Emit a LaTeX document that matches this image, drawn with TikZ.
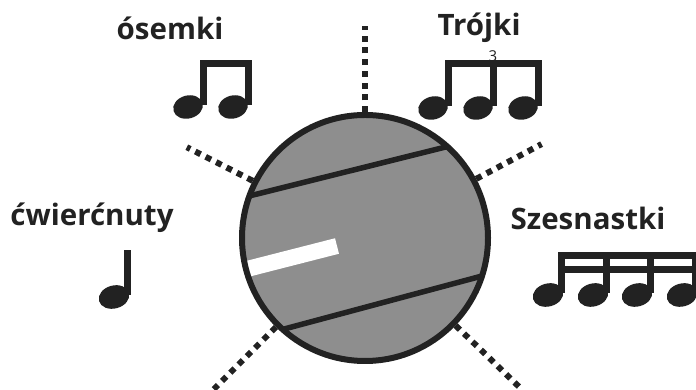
\documentclass[tikz,border=0pt]{standalone}
\usepackage{fontspec}
\setmainfont{Open Sans}
\usepackage{tikz}
\usetikzlibrary{positioning}

\definecolor{ink}{HTML}{222222}
\definecolor{dial}{HTML}{8E8E8E}

\begin{document}
\begin{tikzpicture}[
  x=1pt, y=1pt,
  disc/.style={circle, fill=dial, inner sep=0pt, outer sep=0pt, minimum size=246pt},
  rim/.style={draw=ink, line width=6pt},
  chord/.style={draw=ink, line width=5.5pt},
  dotline/.style={draw=ink, line width=6pt, dash pattern=on 6pt off 5.7pt},
  lbl/.style={font=\bfseries\fontsize{29.5}{32}\selectfont, text=ink, inner sep=0pt}
]
\useasboundingbox (0,0) rectangle (696,390);

% dial
\node[disc] (disc) at (365,152) {};
\coordinate (bar-in) at (337,144);
\coordinate (bar-out) at (247,121);
\draw[white, line width=16pt] (bar-out) -- (bar-in);
\draw[chord] (disc.160.5) -- (disc.48);
\draw[chord] (disc.228.5) -- (disc.342);
\draw[rim] (disc.center) circle[radius=123];

% dotted rays
\draw[dotline] (disc.90) ++(90:3) -- ++(90:86);
\draw[dotline] (disc.153) ++(153:3) -- ++(153:74);
\draw[dotline] (disc.28) ++(28:3) -- ++(28:74);
\draw[dotline] (disc.225) ++(225:3) -- ++(225:90);
\draw[dotline] (disc.316) ++(316:3) -- ++(316:90);

% labels
\node[lbl] (osemki) at (170,362) {ósemki};
\node[lbl] (trojki) at (479,362) {Trójki};
\node[lbl] (cwierc) at (92,172) {ćwierćnuty};
\node[lbl] (szesn) at (588,172) {Szesnastki};
\node[font=\fontsize{15}{16}\selectfont, text=ink, inner sep=0pt] (three) at (493,334) {3};

% quarter note
\fill[ink, rotate around={15:(114,93)}] (114,93) ellipse (15.5 and 11.5);
\fill[ink] (124,95) rectangle (131,140);

% eighth notes
\foreach \hx in {188,233} {
  \fill[ink, rotate around={15:(\hx,283)}] (\hx,283) ellipse (15 and 11.5);
  \fill[ink] (\hx+12,285) rectangle (\hx+19,330);
}
\fill[ink] (200,323) rectangle (252,330);

% triplets
\foreach \hx in {433,478,523} {
  \fill[ink, rotate around={15:(\hx,282)}] (\hx,282) ellipse (15 and 11.5);
  \fill[ink] (\hx+12,284) rectangle (\hx+19,330);
}
\fill[ink] (445,323) rectangle (542,330);

% sixteenth notes
\foreach \hx in {548,593,637,682} {
  \fill[ink, rotate around={15:(\hx,95)}] (\hx,95) ellipse (15.5 and 11.5);
  \fill[ink] (\hx+10,97) rectangle (\hx+17,138);
}
\fill[ink] (558,131) rectangle (696,138);
\fill[ink] (558,117) rectangle (696,124);
\end{tikzpicture}
\end{document}
